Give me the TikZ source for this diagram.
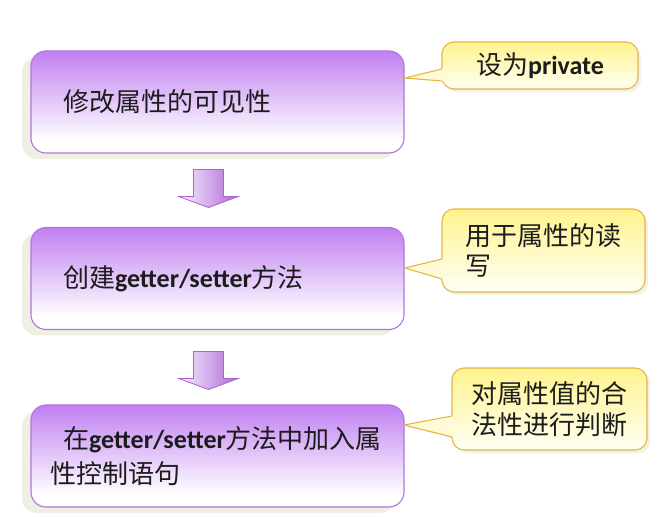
\documentclass[tikz,border=0pt]{standalone}
\usepackage{fontspec}
\setmainfont{Noto Sans CJK SC}
\newfontfamily\lat{Carlito}
\usetikzlibrary{shadows,calc}
\definecolor{boxtop}{HTML}{C080F0}
\definecolor{boxborder}{HTML}{B274DA}
\definecolor{boxshadow}{HTML}{EEF0E4}
\definecolor{caltop}{HTML}{FFF38E}
\definecolor{calbot}{HTML}{FFFFF4}
\definecolor{calborder}{HTML}{E6B548}
\definecolor{calshadow}{HTML}{F1F1EA}
\definecolor{ptrfill}{HTML}{FFFBD6}
\definecolor{arrleft}{HTML}{F7EFFD}
\definecolor{arrright}{HTML}{B068D8}
\definecolor{arrborder}{HTML}{A664CC}
\definecolor{txt}{HTML}{1C1C1C}
\pgfdeclareverticalshading{boxshade}{100bp}{color(0bp)=(white); color(25bp)=(white); color(31bp)=(white); color(75bp)=(boxtop); color(100bp)=(boxtop)}
\pgfdeclareverticalshading{calshade}{100bp}{color(0bp)=(calbot); color(25bp)=(calbot); color(75bp)=(caltop); color(100bp)=(caltop)}
\newcommand\latb[1]{{\lat\bfseries #1}}
\tikzset{
  stepbox/.style={draw=boxborder, line width=1.1pt, rounded corners=15pt,
    shading=boxshade, minimum width=373pt, minimum height=102pt,
    inner ysep=0pt, inner xsep=32pt, text width=309pt, align=left,
    text=txt, font=\fontsize{26pt}{31pt}\selectfont,
    general shadow={fill=boxshadow, shadow xshift=-9pt, shadow yshift=-6pt}},
  callbox/.style={draw=calborder, line width=1.1pt, rounded corners=12pt,
    shading=calshade, inner sep=0pt, align=left, text=txt,
    font=\fontsize{26pt}{30.5pt}\selectfont,
    general shadow={fill=calshadow, shadow xshift=3pt, shadow yshift=-3pt}},
  blockarrow/.style={draw=arrborder, line width=0.8pt, left color=arrleft, right color=arrright, line join=miter},
  ptrline/.style={draw=calborder, line width=1.1pt, line join=miter}
}
\begin{document}
\begin{tikzpicture}[x=1pt,y=-1pt]
\useasboundingbox (0,0) rectangle (664,518);
\fill[white] (0,0) rectangle (664,518);

% step boxes
\node[stepbox] (b1) at (217.5,102) {修改属性的可见性};
\node[stepbox] (b2) at (217.5,278.5) {创建\latb{getter/setter}方法};
\node[stepbox, inner xsep=19pt, text width=335pt, font=\fontsize{26pt}{35pt}\selectfont] (b3) at (217.5,456)
  {\hspace*{13pt}在\latb{getter/setter}方法中加入属\\性控制语句};

% block arrows
\path[blockarrow] ($(b1.south)+(-24,16)$) -- ++(30,0) -- ++(0,27) -- ++(14.5,0)
  -- ++(-29.5,11) -- ++(-29.5,-11) -- ++(14.5,0) -- cycle;
\path[blockarrow] ($(b2.south)+(-24,21.5)$) -- ++(30,0) -- ++(0,27) -- ++(14.5,0)
  -- ++(-29.5,11) -- ++(-29.5,-11) -- ++(14.5,0) -- cycle;

% callouts
\node[callbox, minimum width=196pt, minimum height=47pt] (c1) at (540,65.5) {设为\latb{private}};
\node[callbox, minimum width=203pt, minimum height=83pt] (c2) at (543.5,250.5) {用于属性的读\\写};
\node[callbox, minimum width=195pt, minimum height=82pt] (c3) at (549.5,409) {对属性值的合\\法性进行判断};

% callout pointers
\coordinate (t1) at (405,78);
\coordinate (t2) at (405,268);
\coordinate (t3) at (404,425);
\fill[ptrfill] (t1) -- (442,81) -- (443.8,81) -- (443.8,69) -- (442,69) -- cycle;
\path[ptrline] (442,69) -- (t1) -- (442,81);
\fill[ptrfill] (t2) -- (442,279) -- (443.8,279) -- (443.8,259) -- (442,259) -- cycle;
\path[ptrline] (442,259) -- (t2) -- (442,279);
\fill[ptrfill] (t3) -- (452,437) -- (453.8,437) -- (453.8,416) -- (452,416) -- cycle;
\path[ptrline] (452,416) -- (t3) -- (452,437);
\end{tikzpicture}
\end{document}
